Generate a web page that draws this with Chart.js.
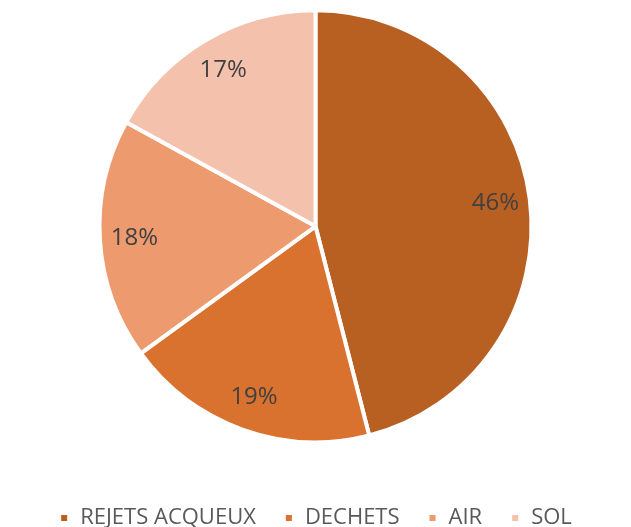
<!DOCTYPE html>
<html>
<head>
<meta charset="utf-8">
<script src="https://cdn.jsdelivr.net/npm/chart.js@4.4.0/dist/chart.umd.min.js"></script>
<style>
  html, body { margin: 0; padding: 0; background: #fff; overflow: hidden; }
  #wrap { width: 631px; height: 527px; }
</style>
</head>
<body>
<div id="wrap"><canvas id="pieChart"></canvas></div>
<script>
const categories = ['REJETS ACQUEUX', 'DECHETS', 'AIR', 'SOL'];
const shares = [46, 19, 18, 17];
const sliceColors = ['#B85F22', '#D9722E', '#EC9A6E', '#F4C1AD'];

// percent labels inside the slices
const sliceLabels = {
  id: 'sliceLabels',
  afterDatasetsDraw(chart) {
    const ctx = chart.ctx;
    const meta = chart.getDatasetMeta(0);
    ctx.save();
    ctx.font = '24px "Open Sans", sans-serif';
    ctx.fillStyle = '#404040';
    ctx.textAlign = 'center';
    ctx.textBaseline = 'middle';
    meta.data.forEach((arc, i) => {
      const mid = (arc.startAngle + arc.endAngle) / 2;
      const r = arc.outerRadius * 0.84;
      ctx.fillText(shares[i] + '%', arc.x + Math.cos(mid) * r, arc.y + Math.sin(mid) * r);
    });
    ctx.restore();
  }
};

new Chart(document.getElementById('pieChart'), {
  type: 'pie',
  data: {
    labels: categories,
    datasets: [{
      data: shares,
      backgroundColor: sliceColors,
      borderColor: '#ffffff',
      borderWidth: 4,
      radius: 216
    }]
  },
  options: {
    responsive: true,
    maintainAspectRatio: false,
    animation: false,
    layout: { padding: { top: 0, bottom: -12 } },
    plugins: {
      legend: {
        position: 'bottom',
        // empty title only used as a spacer between pie and legend
        title: {
          display: true,
          text: ' ',
          font: { size: 12, lineHeight: 1.2 },
          padding: { top: 12, bottom: 0 }
        },
        labels: {
          color: '#595959',
          font: { family: '"Open Sans", sans-serif', size: 22, lineHeight: 1.3 },
          boxWidth: 10,
          boxHeight: 10,
          padding: 28
        }
      },
      tooltip: { enabled: false }
    }
  },
  plugins: [sliceLabels]
});
</script>
</body>
</html>
